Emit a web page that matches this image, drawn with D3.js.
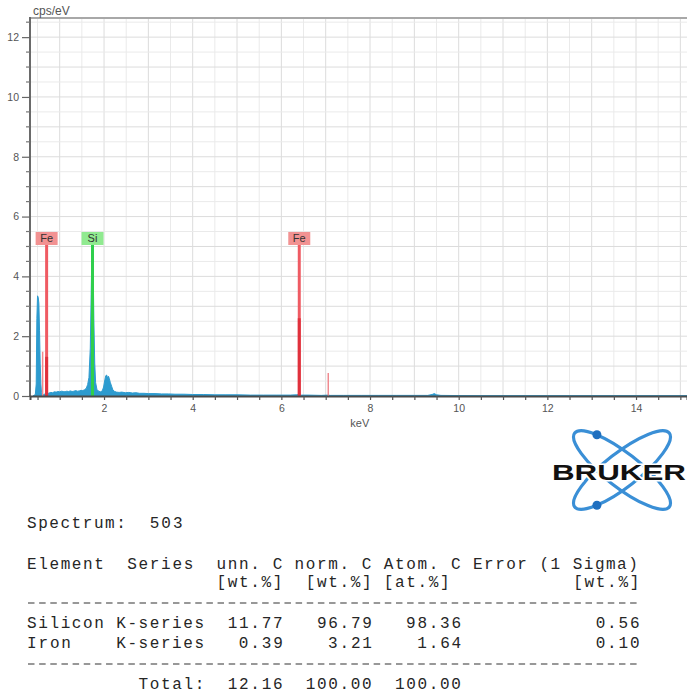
<!DOCTYPE html>
<html>
<head>
<meta charset="utf-8">
<script src="https://cdn.jsdelivr.net/npm/d3@7"></script>
<style>
  html, body { margin: 0; padding: 0; background: #ffffff; }
  svg { display: block; }
</style>
</head>
<body>
<svg id="chart" width="687" height="695"></svg>
<script>
// ---- Spectrum (energy in keV, intensity in cps/eV) ----
const energyKeV = [0.40,0.45,0.47,0.485,0.50,0.515,0.53,0.545,0.56,0.575,0.59,0.61,0.64,0.67,0.70,0.73,0.76,0.80,0.84,0.88,
  0.92,0.96,1.00,1.04,1.08,1.12,1.16,1.20,1.24,1.28,1.32,1.36,1.40,1.44,1.48,1.52,1.56,1.60,1.63,1.66,
  1.69,1.71,1.725,1.74,1.755,1.77,1.79,1.81,1.84,1.88,1.92,1.96,1.99,2.02,2.04,2.06,2.08,2.10,2.12,2.14,
  2.17,2.20,2.24,2.28,2.34,2.40,2.48,2.56,2.64,2.72,2.80,2.90,3.00,3.15,3.30,3.45,3.60,3.80,4.00,4.25,
  4.50,4.75,5.00,5.30,5.60,5.90,6.20,6.35,6.40,6.45,6.60,6.90,7.05,7.10,7.40,7.80,8.20,8.60,9.00,9.30,
  9.40,9.45,9.50,9.60,10.0,10.5,11.0,11.5,12.0,12.5,13.0,13.5,14.0,14.5,15.15];
const countsPerEV = [0.00,0.05,0.40,2.60,3.35,3.30,3.10,2.20,1.10,0.40,0.12,0.06,0.05,0.07,0.09,0.08,0.10,0.12,0.11,0.14,
  0.13,0.15,0.14,0.16,0.15,0.14,0.16,0.15,0.17,0.15,0.16,0.18,0.16,0.17,0.19,0.18,0.21,0.26,0.38,0.62,
  1.60,3.40,4.70,5.00,4.30,2.60,1.10,0.45,0.22,0.16,0.14,0.17,0.30,0.55,0.68,0.70,0.60,0.66,0.58,0.46,
  0.33,0.20,0.15,0.13,0.12,0.13,0.11,0.12,0.10,0.11,0.09,0.09,0.08,0.08,0.07,0.07,0.06,0.06,0.05,0.05,
  0.04,0.04,0.04,0.03,0.03,0.03,0.03,0.04,0.06,0.03,0.03,0.02,0.03,0.02,0.02,0.02,0.02,0.02,0.02,0.02,
  0.05,0.08,0.04,0.02,0.015,0.01,0.01,0.01,0.01,0.01,0.01,0.01,0.01,0.01,0.01];

// ---- Element markers ----
const markerLabels = ["Fe", "Si", "Fe"];
const markerEnergy = [0.705, 1.740, 6.404];
const markerPeak = [1.31, 5.05, 2.60];      // measured line intensity (darker part)
const markerFamily = ["Fe", "Si", "Fe"];
// secondary lines of the same families
const minorLineEnergy = [0.615, 7.058];
const minorLineHeight = [1.48, 0.77];

// ---- Axes ----
const yTickLabels = [0, 2, 4, 6, 8, 10, 12];
const xTickLabels = [2, 4, 6, 8, 10, 12, 14];
const xAxisTitle = "keV";
const yAxisTitle = "cps/eV";

// ---- Quantification table ----
const spectrumName = "503";
const elementNames = ["Silicon", "Iron"];
const seriesNames = ["K-series", "K-series"];
const unnC = [11.77, 0.39];
const normC = [96.79, 3.21];
const atomC = [98.36, 1.64];
const errorSigma = [0.56, 0.10];
const totalValues = [12.16, 100.00, 100.00];

const svg = d3.select("#chart");

// plot frame
const pL = 30, pR = 687, pT = 18, pB = 396;
const x = d3.scaleLinear().domain([0.33, 15.15]).range([pL, pR]);
const y = d3.scaleLinear().domain([0, 12.64]).range([pB, pT]);

const familyColor = { Fe: "#ef5b63", Si: "#3fd85a" };
const familyDark = { Fe: "#e0313c", Si: "#2fcf4c" };
const familyLabelBg = { Fe: "#f29292", Si: "#90ea90" };

svg.append("defs").append("clipPath").attr("id", "plotClip")
  .append("rect").attr("x", pL).attr("y", pT).attr("width", pR - pL).attr("height", pB - pT);

// grid
const grid = svg.append("g");
const xGrid = d3.range(0.5, 15.01, 0.5);
const yGrid = d3.range(0.5, 12.51, 0.5);
grid.selectAll("line.vx").data(xGrid).join("line")
  .attr("x1", d => x(d)).attr("x2", d => x(d)).attr("y1", pT).attr("y2", pB)
  .attr("stroke", d => (d % 1 === 0 ? "#dcdcdc" : "#eaeaea")).attr("stroke-width", 1);
grid.selectAll("line.hy").data(yGrid).join("line")
  .attr("x1", pL).attr("x2", pR).attr("y1", d => y(d)).attr("y2", d => y(d))
  .attr("stroke", d => (d % 1 === 0 ? "#dcdcdc" : "#eaeaea")).attr("stroke-width", 1);

// spectrum
const pts = energyKeV.map((e, i) => [e, countsPerEV[i]]);
const area = d3.area().x(d => x(d[0])).y0(y(0)).y1(d => y(d[1]));
svg.append("path").datum(pts).attr("clip-path", "url(#plotClip)")
  .attr("d", area).attr("fill", "#2d9bcf").attr("stroke", "#2d9bcf").attr("stroke-width", 1);

// minor family lines
svg.selectAll("line.minor").data(minorLineEnergy).join("line")
  .attr("x1", d => x(d)).attr("x2", d => x(d))
  .attr("y1", y(0)).attr("y2", (d, i) => y(minorLineHeight[i]))
  .attr("stroke", "#f08a8f").attr("stroke-width", 1.5);

// marker lines
const labelLevel = 5.05;
const markers = svg.append("g");
markerEnergy.forEach((e, i) => {
  const fam = markerFamily[i];
  markers.append("line")
    .attr("x1", x(e)).attr("x2", x(e)).attr("y1", y(0)).attr("y2", y(labelLevel))
    .attr("stroke", familyColor[fam]).attr("stroke-width", 3);
  markers.append("line")
    .attr("x1", x(e)).attr("x2", x(e)).attr("y1", y(0)).attr("y2", y(markerPeak[i]))
    .attr("stroke", familyDark[fam]).attr("stroke-width", 3);
  markers.append("rect")
    .attr("x", x(e) - 11).attr("y", y(labelLevel) - 13).attr("width", 22).attr("height", 13)
    .attr("fill", familyLabelBg[fam]);
  markers.append("text")
    .attr("x", x(e)).attr("y", y(labelLevel) - 2.5).attr("text-anchor", "middle")
    .attr("font-family", "Liberation Sans, Arial, sans-serif").attr("font-size", 11)
    .attr("fill", "#333").text(markerLabels[i]);
});

// frame lines
svg.append("line").attr("x1", pL).attr("x2", pR).attr("y1", pT).attr("y2", pT)
  .attr("stroke", "#a8a8a8").attr("stroke-width", 2);
svg.append("line").attr("x1", pL).attr("x2", pL).attr("y1", pT - 1).attr("y2", pB)
  .attr("stroke", "#6a6a6a").attr("stroke-width", 2);

// y axis
const yAxis = d3.axisLeft(y).tickValues(yTickLabels).tickSize(8).tickFormat(d3.format("d"));
const yg = svg.append("g").attr("transform", `translate(${pL},0)`).call(yAxis);
yg.select(".domain").remove();
yg.selectAll(".tick line").attr("stroke", "#666").attr("stroke-width", 1.2);
yg.selectAll(".tick text").attr("x", -11).attr("fill", "#555")
  .attr("font-family", "Liberation Sans, Arial, sans-serif").attr("font-size", 10.5);
svg.append("g").selectAll("line").data(d3.range(0.5, 12.6, 0.5).filter(v => v % 2 !== 0)).join("line")
  .attr("x1", pL - 4).attr("x2", pL).attr("y1", d => y(d)).attr("y2", d => y(d))
  .attr("stroke", "#777").attr("stroke-width", 1.2);

// x axis
const xAxis = d3.axisBottom(x).tickValues(d3.range(0.5, 15.01, 0.5)).tickSize(4)
  .tickFormat(d => (xTickLabels.includes(d) ? d3.format("d")(d) : ""));
const xg = svg.append("g").attr("transform", `translate(0,${pB})`).call(xAxis);
xg.select(".domain").attr("stroke", "#4a4a4a").attr("stroke-width", 2);
xg.selectAll(".tick line").attr("stroke", "#555").attr("stroke-width", 1.2);
xg.selectAll(".tick text").attr("y", 9).attr("fill", "#555")
  .attr("font-family", "Liberation Sans, Arial, sans-serif").attr("font-size", 10.5);

svg.append("text").attr("x", x(7.77)).attr("y", 427).attr("text-anchor", "middle")
  .attr("font-family", "Liberation Sans, Arial, sans-serif").attr("font-size", 11)
  .attr("fill", "#555").text(xAxisTitle);
svg.append("text").attr("x", 33).attr("y", 15)
  .attr("font-family", "Liberation Sans, Arial, sans-serif").attr("font-size", 12)
  .attr("fill", "#555").text(yAxisTitle);

// logo
const logo = svg.append("g");
const lcx = 622, lcy = 470, lrx = 60, lry = 17, ltheta = 38;
[ltheta, -ltheta].forEach(a => {
  logo.append("ellipse").attr("cx", lcx).attr("cy", lcy).attr("rx", lrx).attr("ry", lry)
    .attr("transform", `rotate(${a},${lcx},${lcy})`)
    .attr("fill", "none").attr("stroke", "#3a8fd6").attr("stroke-width", 3.2);
});
function orbitPoint(t, deg) {
  const th = deg * Math.PI / 180;
  return [lcx + lrx * Math.cos(t) * Math.cos(th) - lry * Math.sin(t) * Math.sin(th),
          lcy + lrx * Math.cos(t) * Math.sin(th) + lry * Math.sin(t) * Math.cos(th)];
}
const dotA = orbitPoint(3.95, ltheta), dotB = orbitPoint(-3.95, -ltheta);
[dotA, dotB].forEach(p => logo.append("circle").attr("cx", p[0]).attr("cy", p[1]).attr("r", 4.5).attr("fill", "#1f6fbf"));
logo.append("text").attr("x", 552).attr("y", 480)
  .attr("textLength", 134).attr("lengthAdjust", "spacingAndGlyphs")
  .attr("font-family", "Liberation Sans, Arial, sans-serif").attr("font-weight", "bold").attr("font-size", 22)
  .attr("fill", "#111").attr("stroke", "#fff").attr("stroke-width", 3).attr("paint-order", "stroke")
  .text("BRUKER");

// quantification table (monospaced columns)
const colW = 11.15, col0 = 27;
const tbl = svg.append("g").attr("font-family", "Liberation Mono, DejaVu Sans Mono, monospace")
  .attr("font-size", 16).attr("fill", "#262626");
function cell(txt, startCol, baseY) {
  tbl.append("text").attr("x", col0 + startCol * colW).attr("y", baseY)
    .attr("textLength", txt.length * colW * 0.985).attr("lengthAdjust", "spacing")
    .attr("xml:space", "preserve").text(txt);
}
function cellEnd(txt, endCol, baseY) { cell(txt, endCol - txt.length + 1, baseY); }
const f2 = d3.format(".2f");

cell("Spectrum:", 0, 528); cell(spectrumName, 11, 528);
const hy1 = 569, hy2 = 587;
cell("Element", 0, hy1); cellEnd("Series", 14, hy1); cellEnd("unn. C", 22, hy1);
cellEnd("norm. C", 30, hy1); cellEnd("Atom. C", 38, hy1); cellEnd("Error (1 Sigma)", 54, hy1);
cellEnd("[wt.%]", 22, hy2); cellEnd("[wt.%]", 30, hy2); cellEnd("[at.%]", 37, hy2); cellEnd("[wt.%]", 54, hy2);

const rowY = [628, 648];
elementNames.forEach((nm, i) => {
  cell(nm, 0, rowY[i]); cellEnd(seriesNames[i], 15, rowY[i]);
  cellEnd(f2(unnC[i]), 22, rowY[i]); cellEnd(f2(normC[i]), 30, rowY[i]);
  cellEnd(f2(atomC[i]), 38, rowY[i]); cellEnd(f2(errorSigma[i]), 54, rowY[i]);
});
cellEnd("Total:", 15, 689);
cellEnd(f2(totalValues[0]), 22, 689); cellEnd(f2(totalValues[1]), 30, 689); cellEnd(f2(totalValues[2]), 38, 689);

[603, 664].forEach(yy => {
  svg.append("line").attr("x1", col0 + 1).attr("x2", col0 + 55 * colW - 1).attr("y1", yy).attr("y2", yy)
    .attr("stroke", "#333").attr("stroke-width", 1.2).attr("stroke-dasharray", "6.5 " + (colW - 6.5));
});
</script>
</body>
</html>
